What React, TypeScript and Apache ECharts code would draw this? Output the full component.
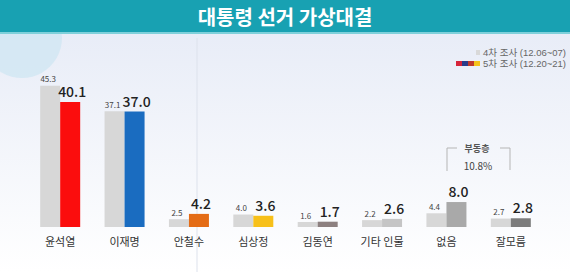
import React, { useEffect, useRef } from "react";
import * as echarts from "echarts";

const categories = ["윤석열", "이재명", "안철수", "심상정", "김동연", "기타 인물", "없음", "잘모름"];
const survey4 = [45.3, 37.1, 2.5, 4.0, 1.6, 2.2, 4.4, 2.7];
const survey5 = [40.1, 37.0, 4.2, 3.6, 1.7, 2.6, 8.0, 2.8];
const survey5Colors = ["#fb0d0d", "#1a6cc0", "#e46c16", "#f7c01a", "#8d8080", "#c5c5c5", "#a9a9a9", "#7c7c7c"];
const legendLabels = ["4차 조사 (12.06~07)", "5차 조사 (12.20~21)"];
const titleText = "대통령 선거 가상대결";
const floatingLabel = "부동층";
const floatingValue = "10.8%";

const FONT = "'Noto Sans CJK KR', 'Noto Sans', sans-serif";
const LEGEND_FONT = "'Liberation Sans', 'Noto Sans CJK KR', sans-serif";

export default function App() {
  const ref = useRef<HTMLDivElement>(null);
  useEffect(() => {
    if (!ref.current) return;
    const chart = echarts.init(ref.current, undefined, { renderer: "svg" });
    chart.setOption({
      animation: false,
      backgroundColor: new echarts.graphic.LinearGradient(0, 0, 0, 1, [
        { offset: 0, color: "#e5eaf6" },
        { offset: 1, color: "#ffffff" },
      ]),
      textStyle: { fontFamily: FONT },
      grid: { left: 28, right: 27, top: 71, bottom: 45 },
      xAxis: {
        type: "category",
        data: categories,
        axisLine: { show: false },
        axisTick: { show: false },
        axisLabel: { color: "#333", fontSize: 11, margin: 8, fontFamily: FONT },
      },
      yAxis: { type: "value", min: 0, max: 50, show: false, splitLine: { show: false } },
      series: [
        {
          type: "bar",
          data: survey4,
          barWidth: 20,
          barGap: "0%",
          itemStyle: { color: "#d7d7d7" },
          label: {
            show: true,
            position: "top",
            distance: 3,
            offset: [-2, 0],
            fontSize: 8,
            color: "#444",
            fontFamily: FONT,
            formatter: (p: any) => Number(p.value).toFixed(1),
          },
        },
        {
          type: "bar",
          data: survey5.map((v, i) => ({ value: v, itemStyle: { color: survey5Colors[i] } })),
          barWidth: 20,
          barGap: "0%",
          label: {
            show: true,
            position: "top",
            distance: 4,
            offset: [2, 0],
            fontSize: 14,
            fontWeight: 500,
            color: "#222",
            fontFamily: FONT,
            formatter: (p: any) => Number(p.value).toFixed(1),
          },
        },
      ],
      graphic: [
        { type: "circle", shape: { cx: 22, cy: 38, r: 40 }, style: { fill: "#cde6f2", opacity: 0.7 }, z: -1, silent: true },
        { type: "line", shape: { x1: 197, y1: 38, x2: 197, y2: 272 }, style: { stroke: "#dde2ec", lineWidth: 1 }, z: -1 },
        { type: "rect", shape: { x: 0, y: 0, width: 570, height: 32 }, style: { fill: "#18a1b2" } },
        { type: "rect", shape: { x: 0, y: 32, width: 570, height: 2 }, style: { fill: "#7fd0da" } },
        {
          type: "text",
          x: 285,
          y: 16,
          style: { text: titleText, fill: "#ffffff", fontSize: 20, fontWeight: "bold", fontFamily: FONT, align: "center", verticalAlign: "middle" },
        },
        { type: "rect", shape: { x: 476, y: 50, width: 4, height: 5 }, style: { fill: "#d9d9d9" } },
        { type: "rect", shape: { x: 456, y: 61, width: 6, height: 5 }, style: { fill: "#d6243a" } },
        { type: "rect", shape: { x: 462, y: 61, width: 6, height: 5 }, style: { fill: "#2a3c8a" } },
        { type: "rect", shape: { x: 468, y: 61, width: 6, height: 5 }, style: { fill: "#c0392b" } },
        { type: "rect", shape: { x: 474, y: 61, width: 6, height: 5 }, style: { fill: "#f5c21b" } },
        {
          type: "text",
          x: 483,
          y: 52.5,
          style: { text: legendLabels[0], fill: "#666", fontSize: 9.5, lineHeight: 10, fontFamily: LEGEND_FONT, verticalAlign: "middle" },
        },
        {
          type: "text",
          x: 483,
          y: 63.5,
          style: { text: legendLabels[1], fill: "#666", fontSize: 9.5, lineHeight: 10, fontFamily: LEGEND_FONT, verticalAlign: "middle" },
        },
        { type: "polyline", shape: { points: [[447, 171], [447, 148], [457, 148]] }, style: { stroke: "#b5b5b5", lineWidth: 1, fill: "none" } },
        { type: "polyline", shape: { points: [[500, 148], [510, 148], [510, 170]] }, style: { stroke: "#b5b5b5", lineWidth: 1, fill: "none" } },
        {
          type: "text",
          x: 477,
          y: 148,
          style: { text: floatingLabel, fill: "#555", fontSize: 9, fontWeight: "bold", fontFamily: FONT, align: "center", verticalAlign: "middle" },
        },
        {
          type: "text",
          x: 478,
          y: 165,
          style: { text: floatingValue, fill: "#444", fontSize: 10, fontFamily: FONT, align: "center", verticalAlign: "middle" },
        },
      ],
    });
    return () => chart.dispose();
  }, []);
  return <div ref={ref} style={{ position: "absolute", left: 0, top: 0, width: 570, height: 272 }} />;
}
